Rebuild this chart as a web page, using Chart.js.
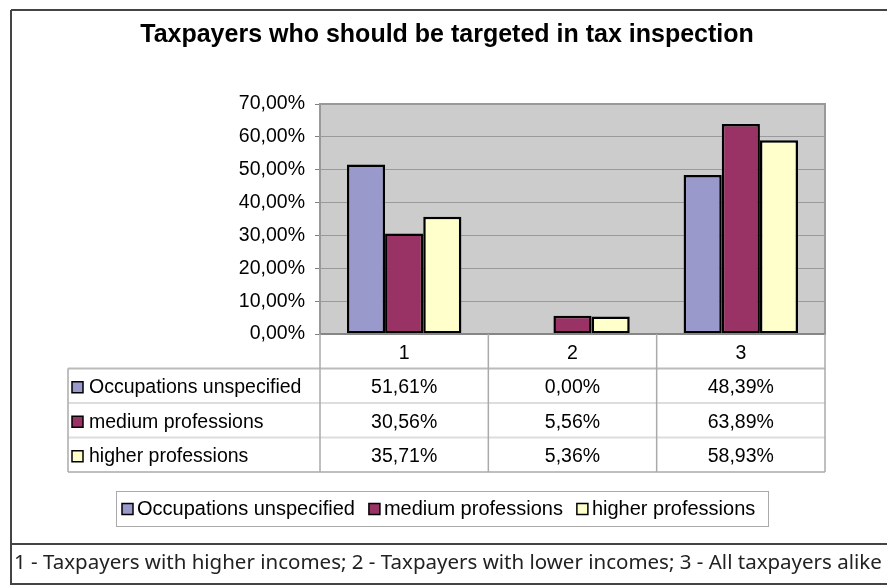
<!DOCTYPE html>
<html>
<head>
<meta charset="utf-8">
<title>Taxpayers who should be targeted in tax inspection</title>
<script src="https://cdn.jsdelivr.net/npm/chart.js@4.4.0/dist/chart.umd.min.js"></script>
<style>
    html, body { margin: 0; padding: 0; background: #fff; }
    canvas { display: block; }
</style>
</head>
<body>
<canvas id="chart-tax" width="887" height="588"></canvas>
<script>
const categories = ['1', '2', '3'];
const seriesNames = ['Occupations unspecified', 'medium professions', 'higher professions'];
const occupationsUnspecified = [51.61, 0.00, 48.39];
const mediumProfessions = [30.56, 5.56, 63.89];
const higherProfessions = [35.71, 5.36, 58.93];
const chartTitle = 'Taxpayers who should be targeted in tax inspection';
const footerNote = '1 - Taxpayers with higher incomes; 2 - Taxpayers with lower incomes; 3 - All taxpayers alike';

const seriesColors = ['#9999CC', '#993366', '#FFFFCC'];
const textFont = '19.5px "Liberation Sans", Arial, sans-serif';

// 51.61 -> "51,61%"
function formatPercent(value) {
    return value.toFixed(2).replace('.', ',') + '%';
}

function drawKey(ctx, x, y, color) {
    ctx.fillStyle = color;
    ctx.fillRect(x, y, 11, 11);
    ctx.strokeStyle = '#000';
    ctx.lineWidth = 1.5;
    ctx.strokeRect(x, y, 11, 11);
}

function line(ctx, x1, y1, x2, y2, color, width) {
    ctx.strokeStyle = color;
    ctx.lineWidth = width || 1;
    ctx.beginPath();
    ctx.moveTo(x1, y1);
    ctx.lineTo(x2, y2);
    ctx.stroke();
}

const frame = {
    id: 'frame',
    beforeDraw(chart) {
        const ctx = chart.ctx;
        const area = chart.chartArea;
        ctx.save();
        ctx.fillStyle = '#fff';
        ctx.fillRect(0, 0, chart.width, chart.height);
        // plot background
        ctx.fillStyle = '#CCCCCC';
        ctx.fillRect(area.left, area.top, area.right - area.left, area.bottom - area.top);
        ctx.restore();
    },
    afterDraw(chart) {
        const ctx = chart.ctx;
        const area = chart.chartArea;
        const x = chart.scales.x;
        ctx.save();

        // plot border
        ctx.strokeStyle = '#999';
        ctx.lineWidth = 2;
        ctx.strokeRect(area.left, area.top, area.right - area.left, area.bottom - area.top);
        line(ctx, area.left, area.bottom, area.right, area.bottom, '#808080', 1.5);

        // outer frame
        line(ctx, 11, 10, chart.width, 10, '#444', 2);
        line(ctx, 11, 10, 11, 585, '#444', 2);

        // title
        ctx.fillStyle = '#000';
        ctx.font = 'bold 25px "Liberation Sans", Arial, sans-serif';
        ctx.textAlign = 'center';
        ctx.textBaseline = 'middle';
        ctx.fillText(chartTitle, 447, 35);

        // data table under the plot
        const rowH = 34.5;
        const headerBottom = area.bottom + rowH;
        const tableLeft = 68;
        const colW = (area.right - area.left) / categories.length;
        const rows = [occupationsUnspecified, mediumProfessions, higherProfessions];
        const tableBottom = headerBottom + rows.length * rowH;

        for (let r = 0; r < rows.length; r++) {
            const y = headerBottom + r * rowH;
            line(ctx, tableLeft, y, area.right, y, r === 0 ? '#bbb' : '#ddd', 2);
        }
        line(ctx, tableLeft, tableBottom, area.right, tableBottom, '#aaa', 1.5);
        line(ctx, tableLeft, headerBottom, tableLeft, tableBottom, '#aaa', 1.5);
        for (let c = 0; c <= categories.length; c++) {
            const cx = area.left + c * colW;
            line(ctx, cx, area.bottom, cx, tableBottom, '#aaa', 1.5);
        }

        ctx.font = textFont;
        ctx.textAlign = 'center';
        ctx.fillStyle = '#000';
        categories.forEach(function (label, i) {
            ctx.fillText(label, x.getPixelForValue(i), area.bottom + rowH / 2 + 2);
        });
        rows.forEach(function (values, r) {
            const cy = headerBottom + r * rowH + rowH / 2 + 2;
            drawKey(ctx, 72, cy - 6, seriesColors[r]);
            ctx.fillStyle = '#000';
            ctx.textAlign = 'left';
            ctx.fillText(seriesNames[r], 89, cy);
            ctx.textAlign = 'center';
            values.forEach(function (v, i) {
                ctx.fillText(formatPercent(v), x.getPixelForValue(i), cy);
            });
        });

        // legend box
        const legTop = 491, legBottom = 526;
        ctx.strokeStyle = '#aaa';
        ctx.lineWidth = 1;
        ctx.strokeRect(116.5, legTop + 0.5, 652, legBottom - legTop);
        ctx.font = '20px "Liberation Sans", Arial, sans-serif';
        let lx = 122;
        const ly = (legTop + legBottom) / 2 + 1;
        ctx.textAlign = 'left';
        seriesNames.forEach(function (name, i) {
            drawKey(ctx, lx, ly - 6, seriesColors[i]);
            ctx.fillStyle = '#000';
            ctx.fillText(name, lx + 15, ly);
            lx += 15 + ctx.measureText(name).width + 14;
        });

        // footer note
        line(ctx, 11, 544, chart.width, 544, '#444', 2);
        line(ctx, 11, 584, chart.width, 584, '#444', 2);
        ctx.font = '20.5px "Noto Sans", sans-serif';
        ctx.fillStyle = '#222';
        ctx.fillText(footerNote, 14, 563);

        ctx.restore();
    }
};

function createChart(ctx) {
    return new Chart(ctx, {
        type: 'bar',
        data: {
            labels: categories,
            datasets: [occupationsUnspecified, mediumProfessions, higherProfessions].map(function (values, i) {
                return {
                    label: seriesNames[i],
                    data: values,
                    backgroundColor: seriesColors[i],
                    borderColor: '#000',
                    borderWidth: 2.5,
                    borderSkipped: false,
                    categoryPercentage: 0.68,
                    barPercentage: 1.0
                };
            })
        },
        options: {
            responsive: false,
            animation: false,
            devicePixelRatio: 1,
            layout: {
                padding: { top: 104, right: 62, bottom: 254, left: 0 }
            },
            plugins: {
                legend: { display: false },
                title: { display: false },
                tooltip: { enabled: false }
            },
            scales: {
                x: { display: false },
                y: {
                    min: 0,
                    max: 70,
                    afterFit: function (scale) { scale.width = 320; },
                    ticks: {
                        stepSize: 10,
                        padding: 10,
                        color: '#000',
                        font: { family: '"Liberation Sans", Arial, sans-serif', size: 19.5 },
                        callback: function (value) { return formatPercent(value); }
                    },
                    grid: { color: '#9a9a9a', tickColor: '#808080', tickLength: 5 },
                    border: { color: '#808080', width: 1 }
                }
            }
        },
        plugins: [frame]
    });
}

const chartTax = createChart(document.getElementById('chart-tax'));
</script>
</body>
</html>
